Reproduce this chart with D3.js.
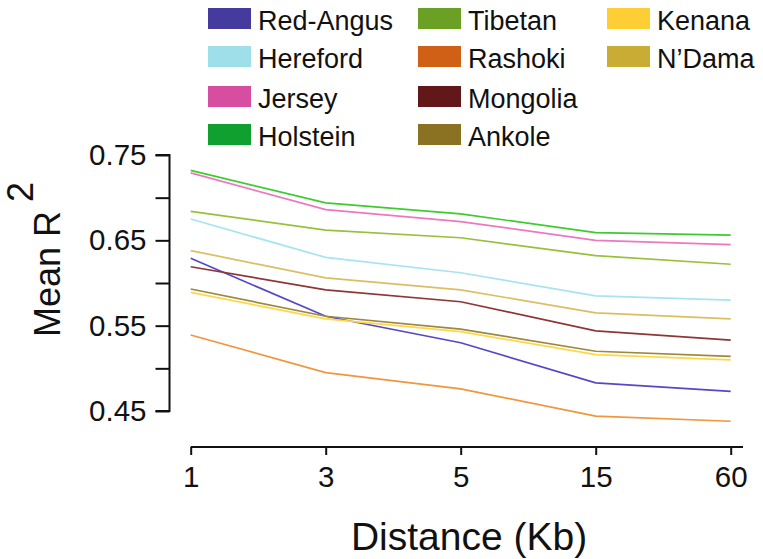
<!DOCTYPE html>
<html>
<head>
<meta charset="utf-8">
<script src="https://cdn.jsdelivr.net/npm/d3@7"></script>
<style>
  body { margin: 0; background: #fff; }
  text { font-family: "Liberation Sans", Arial, sans-serif; fill: #111; }
</style>
</head>
<body>
<svg id="chart" width="763" height="559"></svg>
<script>
// distances (Kb)
const distances = ["1", "3", "5", "15", "60"];

const breeds = ["Red-Angus", "Hereford", "Jersey", "Holstein", "Tibetan",
  "Rashoki", "Mongolia", "Ankole", "Kenana", "N\u2019Dama"];

// mean r2 per breed, one value per distance
const redAngus = [0.629, 0.561, 0.530, 0.483, 0.473];
const hereford = [0.675, 0.630, 0.612, 0.585, 0.580];
const jersey = [0.729, 0.686, 0.672, 0.650, 0.645];
const holstein = [0.732, 0.694, 0.681, 0.659, 0.656];
const tibetan = [0.684, 0.662, 0.653, 0.632, 0.622];
const rashoki = [0.539, 0.495, 0.476, 0.444, 0.438];
const mongolia = [0.619, 0.592, 0.578, 0.544, 0.533];
const ankole = [0.593, 0.561, 0.546, 0.520, 0.514];
const kenana = [0.589, 0.558, 0.543, 0.516, 0.510];
const ndama = [0.638, 0.606, 0.592, 0.565, 0.558];

const yTicks = [0.45, 0.5, 0.55, 0.6, 0.65, 0.7, 0.75];
const yLabels = [0.45, 0.55, 0.65, 0.75];

const series = [redAngus, hereford, jersey, holstein, tibetan,
  rashoki, mongolia, ankole, kenana, ndama];

const swatchColors = ["#453a9e", "#9edfea", "#d74ea0", "#0fa030", "#6aa024",
  "#d06016", "#621818", "#8a7222", "#fecf34", "#c8ac34"];
const lineColors = ["#5548c8", "#a6e4f0", "#ec78c0", "#3ccc2e", "#98c03a",
  "#f0963c", "#8e3636", "#9a8a3c", "#ffd64a", "#dcbe62"];

const svg = d3.select("#chart");

const xScale = d3.scalePoint().domain(distances).range([190.7, 730.7]);
const yScale = d3.scaleLinear().domain([0.45, 0.75]).range([411, 155]);

// y axis
const yAxis = d3.axisLeft(yScale)
  .tickValues(yTicks)
  .tickSize(14)
  .tickFormat((d) => (yLabels.some((v) => Math.abs(v - d) < 1e-9) ? d3.format(".2f")(d) : ""));

const gy = svg.append("g").attr("transform", "translate(169.5,0)").call(yAxis);
gy.select(".domain").attr("d", `M-14,${yScale(0.75)}H0V${yScale(0.45)}H-14`);
gy.selectAll("path, line").attr("stroke", "#111").attr("stroke-width", 2);
gy.selectAll("text")
  .attr("x", -23)
  .style("font-size", "29.5px")
  .style("font-family", "Liberation Sans, Arial, sans-serif");

// x axis
const xAxis = d3.axisBottom(xScale).tickSize(8).tickSizeOuter(0);
const gx = svg.append("g").attr("transform", "translate(0,447)").call(xAxis);
gx.select(".domain").attr("d", `M${xScale("1")},0H743`);
gx.selectAll("path, line").attr("stroke", "#111").attr("stroke-width", 2);
gx.selectAll("text")
  .attr("y", 19)
  .style("font-size", "29.5px")
  .style("font-family", "Liberation Sans, Arial, sans-serif");

// lines
const line = d3.line()
  .x((d, i) => xScale(distances[i]))
  .y((d) => yScale(d));

svg.append("g")
  .selectAll("path")
  .data(series)
  .enter()
  .append("path")
  .attr("d", line)
  .attr("fill", "none")
  .attr("stroke", (d, i) => lineColors[i])
  .attr("stroke-width", 1.7);

// axis titles
svg.append("text")
  .attr("x", 469)
  .attr("y", 550)
  .style("text-anchor", "middle")
  .style("font-size", "39px")
  .text("Distance (Kb)");

const yTitle = svg.append("text")
  .attr("transform", "translate(60,337) rotate(-90)")
  .style("font-size", "36px");
yTitle.append("tspan").text("Mean R");
yTitle.append("tspan").attr("dx", 9).attr("dy", -27).text("2");

// legend
const colX = [208, 418, 607];
const rowY = [8, 46, 86, 124];

const legend = svg.append("g")
  .selectAll("g")
  .data(breeds)
  .enter()
  .append("g")
  .attr("transform", (d, i) => `translate(${colX[Math.floor(i / 4)]},${rowY[i % 4]})`);

legend.append("rect")
  .attr("width", 43)
  .attr("height", 21)
  .attr("fill", (d, i) => swatchColors[i]);

legend.append("text")
  .attr("x", 50)
  .attr("y", 22)
  .style("font-size", "27px")
  .text((d) => d);
</script>
</body>
</html>
